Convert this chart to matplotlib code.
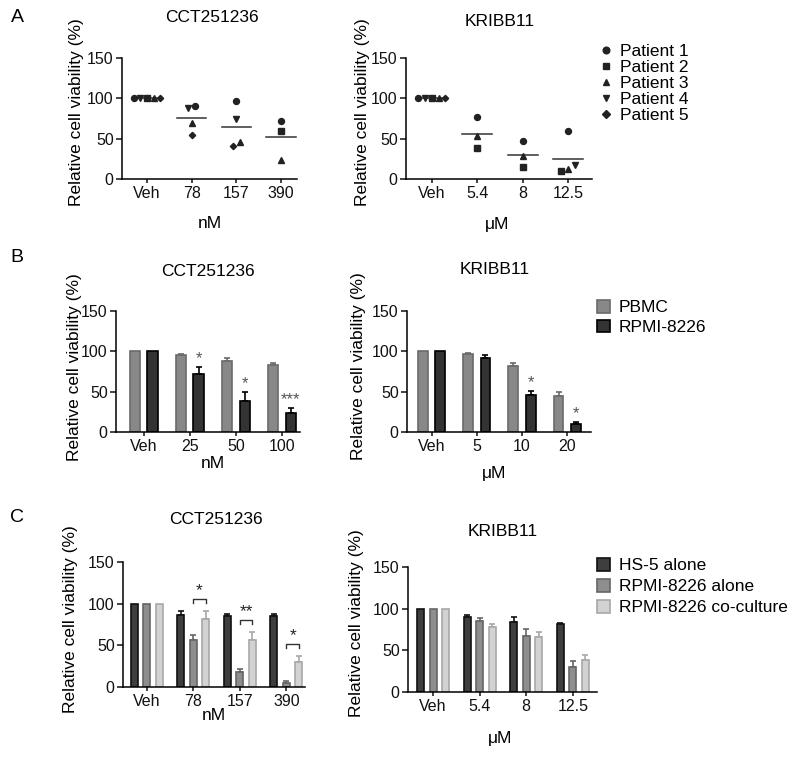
import numpy as np
import matplotlib
matplotlib.use("Agg")
import matplotlib.pyplot as plt
from matplotlib.lines import Line2D
from matplotlib.patches import Patch

plt.rcParams["font.family"] = ["Liberation Sans", "DejaVu Sans"]

nan = np.nan

# ---- Panel A: primary patient cells, one value per patient (NaN = not tested)
PATIENTS = ["Patient 1", "Patient 2", "Patient 3", "Patient 4", "Patient 5"]
A_CCT_DOSES = ["Veh", "78", "157", "390"]
A_CCT_VALUES = [
    [100, 90, 97, 72],
    [100, nan, nan, 60],
    [100, 69, 46, 24],
    [100, 88, 75, nan],
    [100, 54, 41, nan],
]
A_KRI_DOSES = ["Veh", "5.4", "8", "12.5"]
A_KRI_VALUES = [
    [100, 77, 47, 60],
    [100, 38, 14.5, 10],
    [100, 53, 29, 12.5],
    [100, nan, nan, 17.5],
    [100, nan, nan, nan],
]

# ---- Panel B: PBMC vs RPMI-8226
B_GROUPS = ["PBMC", "RPMI-8226"]
B_CCT_DOSES = ["Veh", "25", "50", "100"]
B_CCT_MEANS = [[100, 95.5, 88.5, 83.5], [100, 72, 39, 23]]
B_CCT_ERRS = [[0, 1.6, 2.9, 2.5], [0, 9, 11, 7]]
B_CCT_STARS = ["", "*", "*", "***"]
B_KRI_DOSES = ["Veh", "5", "10", "20"]
B_KRI_MEANS = [[100, 96.5, 82, 44.8], [100, 91.6, 46, 10]]
B_KRI_ERRS = [[0, 1.2, 3, 5.2], [0, 4.4, 5, 2]]
B_KRI_STARS = ["", "", "*", "*"]

# ---- Panel C: HS-5 / RPMI-8226 alone / co-culture
C_GROUPS = ["HS-5 alone", "RPMI-8226 alone", "RPMI-8226 co-culture"]
C_CCT_DOSES = ["Veh", "78", "157", "390"]
C_CCT_MEANS = [[100, 87, 85, 85.6], [100, 56.8, 18, 4.8], [100, 82, 56, 30]]
C_CCT_ERRS = [[0, 4.8, 2.8, 2], [0, 6, 3.6, 2.8], [0, 8.8, 9.6, 6.8]]
C_CCT_STARS = ["", "*", "**", "*"]
C_KRI_DOSES = ["Veh", "5.4", "8", "12.5"]
C_KRI_MEANS = [[100, 90.3, 84.4, 81.2], [100, 85.2, 67.7, 29.8], [100, 77.6, 65.7, 38.6]]
C_KRI_ERRS = [[0, 2.7, 5.9, 1.2], [0, 3.1, 8.3, 8], [0, 3.6, 6.3, 6]]

YLABEL = "Relative cell viability (%)"

W, H = 800, 759
MARKERS = ["o", "s", "^", "v", "D"]
MSIZES = [4.3, 3.9, 4.3, 4.3, 3.2]
SPREAD_ORDER = [0, 3, 1, 2, 4]
B_FACES, B_EDGES = ["#888888", "#333333"], ["#6a6a6a", "#000000"]
C_FACES, C_EDGES = ["#3e3e3e", "#8e8e8e", "#d2d2d2"], ["#111111", "#666666", "#a8a8a8"]


def px_axes(fig, left, right, top, bottom):
    return fig.add_axes([left / W, 1 - bottom / H, (right - left) / W, (bottom - top) / H])


def px_text(fig, x, y, s, **kw):
    kw.setdefault("ha", "center")
    kw.setdefault("va", "center")
    fig.text(x / W, 1 - y / H, s, **kw)


def style_axes(ax, labels, xlim):
    ax.spines[["top", "right"]].set_visible(False)
    for side in ("left", "bottom"):
        ax.spines[side].set_linewidth(1.1)
    ax.set_ylim(0, 150)
    ax.set_yticks([0, 50, 100, 150])
    ax.set_xticks(range(len(labels)))
    ax.set_xticklabels(labels)
    ax.set_xlim(*xlim)
    ax.tick_params(labelsize=11.5, width=1.1, length=4, pad=2, colors="#111111")
    ax.tick_params(axis="x", length=3)


def spread(col, gap=0.15, tol=8):
    idx = [i for i in SPREAD_ORDER if not np.isnan(col[i])]
    idx.sort(key=lambda i: col[i])
    clusters = []
    for i in idx:
        if clusters and col[i] - col[clusters[-1][-1]] <= tol:
            clusters[-1].append(i)
        else:
            clusters.append([i])
    off = np.zeros(len(col))
    for cl in clusters:
        for k, i in enumerate(cl):
            off[i] = (k - (len(cl) - 1) / 2) * gap
    return off


def draw_scatter(ax, values):
    vals = np.array(values, dtype=float)
    for j in range(vals.shape[1]):
        col = vals[:, j]
        off = spread(col)
        for i in range(len(PATIENTS)):
            if not np.isnan(col[i]):
                ax.plot(j + off[i], col[i], marker=MARKERS[i], ms=MSIZES[i],
                        color="#222222", ls="none", zorder=3)
        m = np.nanmean(col)
        ax.plot([j - 0.33, j + 0.33], [m, m], color="#333333", lw=1.1, zorder=2)


def draw_bars(ax, means, errs, width, step, faces, edges):
    n = len(means)
    x = np.arange(len(means[0]))
    centers = []
    for k in range(n):
        xs = x + (k - (n - 1) / 2) * step
        ax.bar(xs, means[k], width, color=faces[k], edgecolor=edges[k], linewidth=1.2, zorder=2)
        e = np.array(errs[k], dtype=float)
        mask = e > 0
        ax.errorbar(xs[mask], np.array(means[k])[mask], yerr=[np.zeros(mask.sum()), e[mask]],
                    fmt="none", ecolor=edges[k], elinewidth=1.2, capsize=2.5, capthick=1.2, zorder=1)
        centers.append(xs)
    return centers


fig = plt.figure(figsize=(8, 7.59), dpi=100)

# ---------------- A
axA1 = px_axes(fig, 122, 297, 58, 179)
style_axes(axA1, A_CCT_DOSES, (-0.56, 3.36))
draw_scatter(axA1, A_CCT_VALUES)

axA2 = px_axes(fig, 406, 592, 58, 179)
style_axes(axA2, A_KRI_DOSES, (-0.57, 3.53))
draw_scatter(axA2, A_KRI_VALUES)

handles = [Line2D([], [], marker=MARKERS[i], ms=MSIZES[i] + 0.5, color="#222222", ls="none")
           for i in range(len(PATIENTS))]
fig.legend(handles, PATIENTS, loc="upper left", bbox_to_anchor=(599 / W, 1 - 44 / H),
           frameon=False, fontsize=12.5, labelspacing=0.05, handlelength=0.75,
           handletextpad=0.45, borderpad=0, borderaxespad=0)

# ---------------- B
axB1 = px_axes(fig, 116, 300, 311, 432)
style_axes(axB1, B_CCT_DOSES, (-0.6, 3.39))
cen = draw_bars(axB1, B_CCT_MEANS, B_CCT_ERRS, 0.22, 0.38, B_FACES, B_EDGES)
for j, s in enumerate(B_CCT_STARS):
    if s:
        axB1.text(cen[1][j], B_CCT_MEANS[1][j] + B_CCT_ERRS[1][j] + 1, s, ha="center",
                  va="bottom", fontsize=12, color="#555555")

axB2 = px_axes(fig, 407, 591, 311, 432)
style_axes(axB2, B_KRI_DOSES, (-0.55, 3.53))
cen = draw_bars(axB2, B_KRI_MEANS, B_KRI_ERRS, 0.22, 0.38, B_FACES, B_EDGES)
for j, s in enumerate(B_KRI_STARS):
    if s:
        axB2.text(cen[1][j], B_KRI_MEANS[1][j] + B_KRI_ERRS[1][j] + 1, s, ha="center",
                  va="bottom", fontsize=12, color="#555555")

fig.legend([Patch(facecolor=f, edgecolor=e, lw=1.2) for f, e in zip(B_FACES, B_EDGES)], B_GROUPS,
           loc="upper left", bbox_to_anchor=(597 / W, 1 - 300 / H), frameon=False, fontsize=12.5,
           labelspacing=0.25, handlelength=0.75, handleheight=0.75, handletextpad=0.5,
           borderpad=0, borderaxespad=0)

# ---------------- C
axC1 = px_axes(fig, 123, 305, 562, 687)
style_axes(axC1, C_CCT_DOSES, (-0.51, 3.4))
cen = draw_bars(axC1, C_CCT_MEANS, C_CCT_ERRS, 0.15, 0.27, C_FACES, C_EDGES)
for j, s in enumerate(C_CCT_STARS):
    if s:
        top = max(C_CCT_MEANS[1][j] + C_CCT_ERRS[1][j], C_CCT_MEANS[2][j] + C_CCT_ERRS[2][j]) + 15
        x1, x2 = cen[1][j], cen[2][j]
        axC1.plot([x1, x1, x2, x2], [top - 5, top, top, top - 5], color="#333333", lw=1)
        axC1.text((x1 + x2) / 2, top + 1, s, ha="center", va="bottom", fontsize=12.5, color="#222222")

axC2 = px_axes(fig, 408, 597, 567, 692)
style_axes(axC2, C_KRI_DOSES, (-0.54, 3.52))
draw_bars(axC2, C_KRI_MEANS, C_KRI_ERRS, 0.15, 0.27, C_FACES, C_EDGES)

fig.legend([Patch(facecolor=f, edgecolor=e, lw=1.2) for f, e in zip(C_FACES, C_EDGES)], C_GROUPS,
           loc="upper left", bbox_to_anchor=(597 / W, 1 - 558 / H), frameon=False, fontsize=12.5,
           labelspacing=0.32, handlelength=0.75, handleheight=0.75, handletextpad=0.5,
           borderpad=0, borderaxespad=0)

# ---------------- text
for x, y, s in [(212, 17, "CCT251236"), (500, 21, "KRIBB11"),
                (208, 271, "CCT251236"), (495, 270, "KRIBB11"),
                (216, 520, "CCT251236"), (503, 531, "KRIBB11")]:
    px_text(fig, x, y, s, fontsize=12.5)

for x, y, s in [(210, 224, "nM"), (497, 225, "\u03bcM"),
                (213, 463, "nM"), (494, 474, "\u03bcM"),
                (214, 715, "nM"), (500, 739, "\u03bcM")]:
    px_text(fig, x, y, s, fontsize=12.5)

for x, y in [(77, 112), (362, 112), (74, 367), (359, 366), (71, 619), (357, 623)]:
    px_text(fig, x, y, YLABEL, fontsize=12.5, rotation=90)

for y, s in [(18, "A"), (257, "B"), (517, "C")]:
    px_text(fig, 17, y, s, fontsize=14)

fig.savefig("out.png", dpi=100)
